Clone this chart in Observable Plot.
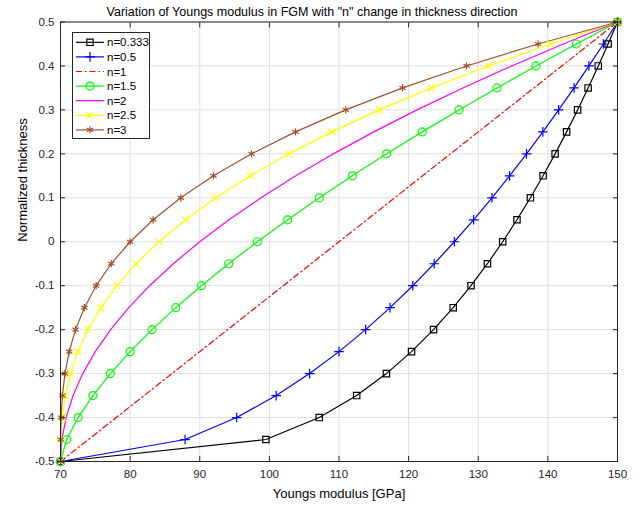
<!DOCTYPE html>
<html><head><meta charset="utf-8">
<script src="https://cdn.jsdelivr.net/npm/d3@7"></script>
<script src="https://cdn.jsdelivr.net/npm/@observablehq/plot@0.6"></script>
<style>
html,body{margin:0;padding:0;background:#fff;}
#wrap{position:relative;width:643px;height:506px;font-family:"Liberation Sans",Arial,sans-serif;}
#legend{position:absolute;left:0;top:0;}
</style></head>
<body><div id="wrap"></div>
<script>
const title = 'Variation of Youngs modulus in FGM with "n" change in thickness direction';
const xLabel = "Youngs modulus [GPa]";
const yLabel = "Normalized thickness";
const xTicks = [70, 80, 90, 100, 110, 120, 130, 140, 150];
const yTicks = [-0.5, -0.4, -0.3, -0.2, -0.1, 0, 0.1, 0.2, 0.3, 0.4, 0.5];
const thickness = [-0.5,-0.45,-0.4,-0.35,-0.3,-0.25,-0.2,-0.15,-0.1,-0.05,0,0.05,0.1,0.15,0.2,0.25,0.3,0.35,0.4,0.45,0.5];
const seriesNames = ["n=0.333","n=0.5","n=1","n=1.5","n=2","n=2.5","n=3"];
const e_n0333 = [70,99.50,107.16,112.54,116.81,120.42,123.58,126.40,128.96,131.32,133.51,135.56,137.49,139.31,141.04,142.69,144.27,145.78,147.24,148.65,150];
const e_n05 = [70,87.89,95.30,100.98,105.78,110,113.82,117.33,120.60,123.67,126.57,129.33,131.97,134.50,136.93,139.28,141.55,143.76,145.89,147.98,150];
const e_n1 = [70,74,78,82,86,90,94,98,102,106,110,114,118,122,126,130,134,138,142,146,150];
const e_n15 = [70,70.89,72.53,74.65,77.16,80,83.15,86.56,90.24,94.15,98.28,102.63,107.18,111.92,116.85,121.96,127.24,132.69,138.30,144.08,150];
const e_n2 = [70,70.2,70.8,71.8,73.2,75,77.2,79.8,82.8,86.2,90,94.2,98.8,103.8,109.2,115,121.2,127.8,134.8,142.2,150];
const e_n25 = [70,70.04,70.25,70.70,71.43,72.5,73.94,75.80,78.10,80.87,84.14,87.95,92.31,97.25,102.80,108.97,115.79,123.29,131.47,140.37,150];
const e_n3 = [70,70.01,70.08,70.27,70.64,71.25,72.16,73.43,75.12,77.29,80,83.31,87.28,91.97,97.44,103.75,110.96,119.13,128.32,138.59,150];

const seriesValues = [e_n0333, e_n05, e_n1, e_n15, e_n2, e_n25, e_n3];
const styles = [
  {color:"#000000", symbol:"square", dash:null, r:3.6},
  {color:"#0000ff", symbol:"plus", dash:null, r:3.2},
  {color:"#ff0000", symbol:null, dash:"6,3,1.5,3", r:0},
  {color:"#00ff00", symbol:"circle", dash:null, r:4},
  {color:"#ff00ff", symbol:null, dash:null, r:0},
  {color:"#ffff00", symbol:"times", dash:null, r:3.2},
  {color:"#a0522d", symbol:"asterisk", dash:null, r:3.4}
];
const rows = [];
seriesNames.forEach((name, i) => {
  seriesValues[i].forEach((e, j) => rows.push({series: name, i, E: e, z: thickness[j]}));
});

const font = '"Liberation Sans", Arial, sans-serif';
const marks = [
  Plot.gridX(xTicks, {stroke:"#dedede", strokeOpacity:1}),
  Plot.gridY(yTicks, {stroke:"#dedede", strokeOpacity:1}),
];
seriesNames.forEach((name, i) => {
  const d = rows.filter(r => r.i === i);
  marks.push(Plot.line(d, {x:"E", y:"z", stroke: styles[i].color, strokeWidth:1.2, strokeDasharray: styles[i].dash}));
});
seriesNames.forEach((name, i) => {
  if (!styles[i].symbol) return;
  const d = rows.filter(r => r.i === i);
  marks.push(Plot.dot(d, {x:"E", y:"z", symbol: styles[i].symbol, r: styles[i].r, stroke: styles[i].color, fill:"none", strokeWidth:1.2}));
});
marks.push(
  Plot.frame({stroke:"#262626", strokeWidth:1}),
  Plot.axisX(xTicks, {anchor:"bottom", label:null, tickSize:-5, tickFormat: () => "", stroke:"#262626"}),
  Plot.axisX(xTicks, {anchor:"top", label:null, tickSize:-5, tickFormat: () => "", stroke:"#262626"}),
  Plot.axisY(yTicks, {anchor:"left", label:null, tickSize:-5, tickFormat: () => "", stroke:"#262626"}),
  Plot.axisY(yTicks, {anchor:"right", label:null, tickSize:-5, tickFormat: () => "", stroke:"#262626"}),
  Plot.axisX(xTicks, {anchor:"bottom", label:null, tickSize:0, tickPadding:8, fontSize:11.5, fill:"#262626", tickFormat: d => String(d)}),
  Plot.axisY(yTicks, {anchor:"left", label:null, tickSize:0, tickPadding:6, fontSize:11.5, fill:"#262626", tickFormat: d => String(d)}),
  Plot.text([title], {frameAnchor:"top", dx:-27, dy:-10, lineAnchor:"middle", fontSize:12.5, fill:"#000"}),
  Plot.text([xLabel], {frameAnchor:"bottom", dy:32, lineAnchor:"middle", fontSize:13, fill:"#000"}),
  Plot.text([yLabel], {frameAnchor:"left", dx:-38, rotate:-90, lineAnchor:"middle", fontSize:13, fill:"#000"})
);

const chart = Plot.plot({
  width:643, height:506,
  marginLeft:60, marginRight:26, marginTop:21.5, marginBottom:45,
  style:{fontFamily:font, background:"#fff"},
  x:{domain:[70,150], axis:null},
  y:{domain:[-0.5,0.5], axis:null},
  marks
});
const wrap = document.getElementById("wrap");
wrap.appendChild(chart);

// legend
const lg = d3.select(wrap).append("svg").attr("id","legend").attr("width",643).attr("height",506);
lg.append("rect").attr("x",72.5).attr("y",32.5).attr("width",77).attr("height",106)
  .attr("fill","#fff").attr("stroke","#262626").attr("stroke-width",1);
seriesNames.forEach((name, i) => {
  const y = 42.3 + i*14.6;
  const g = lg.append("g");
  g.append("line").attr("x1",76).attr("x2",104).attr("y1",y).attr("y2",y)
    .attr("stroke", styles[i].color).attr("stroke-width",1.2)
    .attr("stroke-dasharray", styles[i].dash);
  if (styles[i].symbol) {
    const sym = {square:d3.symbolSquare, plus:d3.symbolPlus, circle:d3.symbolCircle, times:d3.symbolTimes, asterisk:d3.symbolAsterisk}[styles[i].symbol];
    g.append("path").attr("transform",`translate(90,${y})`)
      .attr("d", d3.symbol(sym, Math.PI*styles[i].r*styles[i].r)())
      .attr("fill","none").attr("stroke",styles[i].color).attr("stroke-width",1.2);
  }
  g.append("text").attr("x",107).attr("y",y).attr("dy","0.35em")
    .attr("font-size",11.5).attr("font-family",font).attr("fill","#000").text(name);
});
</script></body></html>
